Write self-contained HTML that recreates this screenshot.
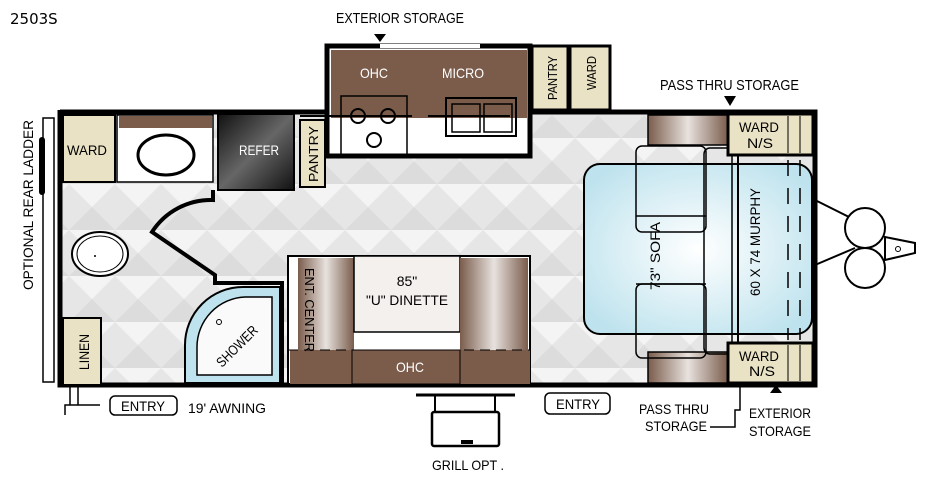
<!DOCTYPE html>
<html><head><meta charset="utf-8"><style>
html,body{margin:0;padding:0;background:#fff;}
svg{display:block;}
text{font-family:"Liberation Sans",sans-serif;}
</style></head><body>
<svg width="939" height="480" viewBox="0 0 939 480" xmlns="http://www.w3.org/2000/svg">
<defs>
<pattern id="dia" width="46" height="46" patternUnits="userSpaceOnUse">
<rect width="46" height="46" fill="#f4f4f4"/>
<path d="M0 23 L23 0 L46 23 L23 46Z" fill="#e6e6e6"/>
<path d="M0 23 L23 46 L0 46Z M46 23 L23 46 L46 46Z" fill="#dcdcdc"/>
</pattern>
<linearGradient id="br" x1="0" x2="1"><stop offset="0" stop-color="#7a5c4c"/><stop offset="0.5" stop-color="#e8e2de"/><stop offset="1" stop-color="#7a5c4c"/></linearGradient>
<linearGradient id="ref" x1="0" y1="0" x2="1" y2="1"><stop offset="0" stop-color="#111"/><stop offset="0.5" stop-color="#666"/><stop offset="1" stop-color="#111"/></linearGradient>
<radialGradient id="bed" cx="0.5" cy="0.5" r="0.6"><stop offset="0" stop-color="#fff"/><stop offset="1" stop-color="#bfe3ee"/></radialGradient>
</defs>
<text x="10" y="24" style="font-family:'DejaVu Sans',sans-serif" font-size="15">2503S</text>

<!-- floor -->
<rect x="60" y="112" width="755" height="273" fill="url(#dia)"/>
<!-- outer walls -->
<path d="M60 112 H325 M530 112 H815 V385 H60 V110" fill="none" stroke="#000" stroke-width="5"/>
<!-- kitchen slideout -->
<rect x="327" y="46" width="203" height="110" fill="#fff" stroke="#000" stroke-width="5"/>
<rect x="331" y="50" width="196" height="68" fill="#7b5c4b"/>
<rect x="380" y="44" width="100" height="4" fill="#fff"/>
<path d="M374 34 L386 34 L380 42Z"/>
<text x="336" y="23" font-size="15" textLength="128" lengthAdjust="spacingAndGlyphs">EXTERIOR  STORAGE</text>
<text x="360" y="78" font-size="14" fill="#fff" textLength="28" lengthAdjust="spacingAndGlyphs">OHC</text>
<text x="442" y="78" font-size="14" fill="#fff" textLength="42" lengthAdjust="spacingAndGlyphs">MICRO</text>
<rect x="341" y="96" width="66" height="60" fill="none" stroke="#000" stroke-width="1.5"/>
<line x1="300" y1="116" x2="412" y2="116" stroke="#000" stroke-width="2"/>
<line x1="428" y1="116" x2="510" y2="116" stroke="#000" stroke-width="2"/>
<circle cx="358" cy="116" r="7" fill="none" stroke="#000" stroke-width="2"/>
<circle cx="388" cy="116" r="7" fill="none" stroke="#000" stroke-width="2"/>
<circle cx="374" cy="140" r="7" fill="none" stroke="#000" stroke-width="2"/>
<rect x="446" y="98" width="70" height="38" fill="none" stroke="#000" stroke-width="2"/>
<rect x="452" y="104" width="28" height="28" fill="none" stroke="#000" stroke-width="1.5"/>
<rect x="484" y="104" width="28" height="28" fill="none" stroke="#000" stroke-width="1.5"/>
<rect x="532" y="46" width="36" height="64" fill="#e9e2c4" stroke="#000" stroke-width="3"/>
<rect x="570" y="46" width="40" height="64" fill="#e9e2c4" stroke="#000" stroke-width="3"/>
<text transform="translate(557,100) rotate(-90)" font-size="13" textLength="44" lengthAdjust="spacingAndGlyphs">PANTRY</text>
<text transform="translate(596,90) rotate(-90)" font-size="13" textLength="34" lengthAdjust="spacingAndGlyphs">WARD</text>

<!-- bath/rear -->
<rect x="63" y="115" width="52" height="67" fill="#e9e2c4" stroke="#000" stroke-width="2"/>
<text x="67" y="155" font-size="14" textLength="40" lengthAdjust="spacingAndGlyphs">WARD</text>
<rect x="117" y="115" width="96" height="67" fill="#fff" stroke="#000" stroke-width="1.5"/>
<rect x="119" y="116" width="93" height="12" fill="#7b5c4b"/>
<ellipse cx="166" cy="155" rx="28" ry="20" fill="#fff" stroke="#000" stroke-width="3"/>
<rect x="218" y="114" width="76" height="76" fill="url(#ref)" stroke="#000" stroke-width="2"/>
<text x="239" y="155" font-size="14" fill="#fff" textLength="40" lengthAdjust="spacingAndGlyphs">REFER</text>
<rect x="300" y="120" width="25" height="67" fill="#e9e2c4" stroke="#000" stroke-width="2"/>
<text transform="translate(318,182) rotate(-90)" font-size="13" textLength="56" lengthAdjust="spacingAndGlyphs">PANTRY</text>
<path d="M213 190 V200 A70 70 0 0 0 152 232 L215 275 V283 H282 V385" fill="none" stroke="#000" stroke-width="4"/>
<ellipse cx="100" cy="254" rx="28" ry="22" fill="#fff" stroke="#000" stroke-width="2"/>
<ellipse cx="100" cy="254" rx="23" ry="18" fill="none" stroke="#000" stroke-width="1"/>
<circle cx="95" cy="256" r="1"/>
<rect x="63" y="318" width="38" height="67" fill="#e9e2c4" stroke="#000" stroke-width="2"/>
<text transform="translate(89,370) rotate(-90)" font-size="14" textLength="36" lengthAdjust="spacingAndGlyphs">LINEN</text>
<path d="M185 383 V345 A58 58 0 0 1 243 287 H280 V383Z" fill="#bfe3ee" stroke="#000" stroke-width="2"/>
<path d="M197 375 V347 A50 50 0 0 1 245 297 H272 V375Z" fill="#fafafa" stroke="#000" stroke-width="1.5"/>
<circle cx="219" cy="322" r="2.5" fill="none" stroke="#000"/>
<text transform="translate(222,368) rotate(-45)" font-size="14" textLength="52" lengthAdjust="spacingAndGlyphs">SHOWER</text>

<!-- ladder -->
<rect x="43" y="118" width="11" height="264" fill="#fff" stroke="#000" stroke-width="1.5"/>
<rect x="39" y="137" width="6" height="58" rx="3"/>
<text transform="translate(33,290) rotate(-90)" font-size="14" textLength="170" lengthAdjust="spacingAndGlyphs">OPTIONAL  REAR LADDER</text>

<!-- dinette -->
<rect x="288" y="256" width="242" height="128" fill="#fff" stroke="#000" stroke-width="2"/>
<rect x="290" y="350" width="240" height="34" fill="#7b5c4b"/>
<rect x="298" y="258" width="56" height="92" fill="url(#br)"/>
<rect x="354" y="256" width="106" height="76" fill="#f3f0ee" stroke="#000" stroke-width="1.5"/>
<rect x="460" y="258" width="68" height="92" fill="url(#br)"/>
<rect x="352" y="350" width="108" height="34" fill="none" stroke="#000" stroke-width="1"/>
<text x="407" y="286" font-size="14" text-anchor="middle">85"</text>
<text x="407" y="305" font-size="14" text-anchor="middle" textLength="82" lengthAdjust="spacingAndGlyphs">"U" DINETTE</text>
<text x="396" y="372" font-size="14" fill="#fff" textLength="28" lengthAdjust="spacingAndGlyphs">OHC</text>
<text transform="translate(305,268) rotate(90)" font-size="13" textLength="84" lengthAdjust="spacingAndGlyphs">ENT. CENTER</text>
<line x1="288" y1="350" x2="530" y2="350" stroke="#000" stroke-width="1" stroke-dasharray="10 6"/>

<!-- front -->
<rect x="648" y="115" width="80" height="30" fill="url(#br)" stroke="#000" stroke-width="1.5"/>
<rect x="648" y="352" width="80" height="31" fill="url(#br)" stroke="#000" stroke-width="1.5"/>
<rect x="584" y="164" width="228" height="170" rx="16" fill="url(#bed)" stroke="#000" stroke-width="2"/>
<rect x="636" y="146" width="70" height="86" rx="6" fill="none" stroke="#000" stroke-width="1.5"/>
<rect x="636" y="284" width="70" height="74" rx="6" fill="none" stroke="#000" stroke-width="1.5"/>
<rect x="704" y="148" width="28" height="206" rx="6" fill="none" stroke="#000" stroke-width="1.5"/>
<line x1="636" y1="216" x2="706" y2="216" stroke="#000" stroke-width="1.5"/>
<line x1="636" y1="284" x2="706" y2="284" stroke="#000" stroke-width="1.5"/>
<line x1="738" y1="155" x2="738" y2="343" stroke="#000" stroke-width="2"/>
<line x1="788" y1="160" x2="788" y2="340" stroke="#000" stroke-width="1.5" stroke-dasharray="16 12"/>
<line x1="800" y1="160" x2="800" y2="340" stroke="#000" stroke-width="1.5" stroke-dasharray="16 12"/>
<text transform="translate(660,290) rotate(-90)" font-size="14" textLength="68" lengthAdjust="spacingAndGlyphs">73"  SOFA</text>
<text transform="translate(760,296) rotate(-90)" font-size="14" textLength="108" lengthAdjust="spacingAndGlyphs">60 X 74 MURPHY</text>
<rect x="728" y="114" width="85" height="41" fill="#e9e2c4" stroke="#000" stroke-width="3"/>
<rect x="728" y="343" width="85" height="40" fill="#e9e2c4" stroke="#000" stroke-width="3"/>
<line x1="788" y1="116" x2="788" y2="153" stroke="#000"/><line x1="800" y1="116" x2="800" y2="153" stroke="#000"/>
<line x1="788" y1="345" x2="788" y2="381" stroke="#000"/><line x1="800" y1="345" x2="800" y2="381" stroke="#000"/>
<text x="739" y="132" font-size="14" textLength="40" lengthAdjust="spacingAndGlyphs">WARD</text><text x="747" y="148" font-size="14" textLength="26" lengthAdjust="spacingAndGlyphs">N/S</text>
<text x="739" y="361" font-size="14" textLength="40" lengthAdjust="spacingAndGlyphs">WARD</text><text x="749" y="376" font-size="14" textLength="26" lengthAdjust="spacingAndGlyphs">N/S</text>
<text x="660" y="90" font-size="15" textLength="139" lengthAdjust="spacingAndGlyphs">PASS THRU  STORAGE</text>
<path d="M724 96 L736 96 L730 106Z"/>
<path d="M770 393 L782 393 L776 385Z"/>
<text x="749" y="418" font-size="14" textLength="62" lengthAdjust="spacingAndGlyphs">EXTERIOR</text><text x="749" y="436" font-size="14" textLength="62" lengthAdjust="spacingAndGlyphs">STORAGE</text>
<text x="639" y="414" font-size="14" textLength="70" lengthAdjust="spacingAndGlyphs">PASS THRU</text><text x="645" y="431" font-size="14" textLength="62" lengthAdjust="spacingAndGlyphs">STORAGE</text>
<path d="M710 427 H735 V410 H740 V385" fill="none" stroke="#000" stroke-width="1.5"/>
<!-- hitch -->
<path d="M815 200 L855 220 M815 265 L855 248" stroke="#000" stroke-width="2" fill="none"/>
<circle cx="865" cy="228" r="20" fill="#fff" stroke="#000" stroke-width="2"/>
<circle cx="865" cy="268" r="20" fill="#fff" stroke="#000" stroke-width="2"/>
<path d="M885 237 L915 243 L915 253 L885 260Z" fill="#fff" stroke="#000" stroke-width="2"/>
<circle cx="898" cy="249" r="2.5" fill="none" stroke="#000"/>

<!-- bottom labels -->
<path d="M70 385 V405 M78 385 V405 M65 415 V405 H100" stroke="#000" stroke-width="1.5" fill="none"/>
<rect x="110" y="396" width="67" height="19" rx="5" fill="#fff" stroke="#000" stroke-width="1.5"/>
<text x="121" y="411" font-size="14" textLength="44" lengthAdjust="spacingAndGlyphs">ENTRY</text>
<text x="188" y="413" font-size="14" textLength="78" lengthAdjust="spacingAndGlyphs">19' AWNING</text>
<rect x="545" y="393" width="65" height="21" rx="5" fill="#fff" stroke="#000" stroke-width="1.5"/>
<text x="556" y="409" font-size="14" textLength="44" lengthAdjust="spacingAndGlyphs">ENTRY</text>
<line x1="416" y1="395" x2="515" y2="395" stroke="#000" stroke-width="3"/>
<path d="M435 395 V412 M495 395 V412" stroke="#000" stroke-width="2"/>
<rect x="432" y="412" width="67" height="34" rx="2" fill="#fff" stroke="#000" stroke-width="2.5"/>
<rect x="461" y="440" width="12" height="4"/>
<text x="432" y="470" font-size="14" textLength="72" lengthAdjust="spacingAndGlyphs">GRILL OPT .</text>
</svg>
</body></html>
